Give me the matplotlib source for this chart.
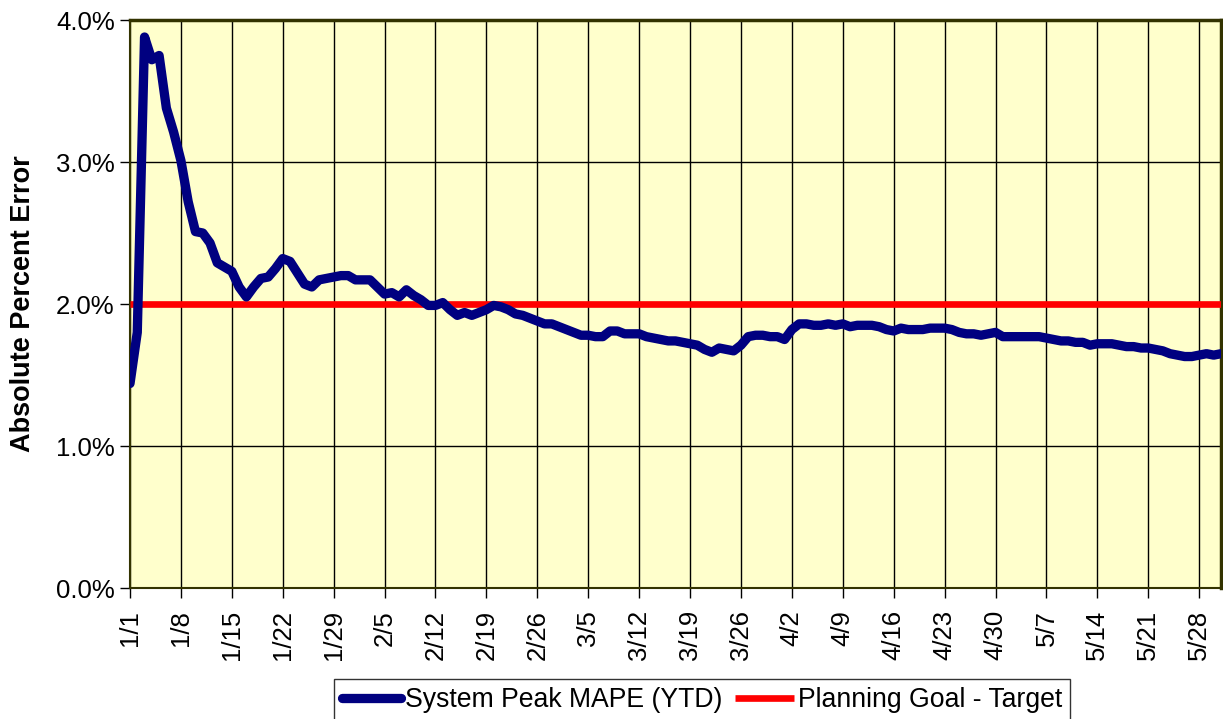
'''
System peak MAPE (YTD) vs planning goal
'''
import numpy as np
import matplotlib as mpl
import matplotlib.pyplot as plt

mpl.rcParams['font.family'] = ['Liberation Sans', 'DejaVu Sans']

# -- data: one value per day starting 1/1 --
mape_ytd = [
    1.44, 1.80, 3.88, 3.72, 3.75, 3.38, 3.21, 3.01, 2.72, 2.51,
    2.50, 2.43, 2.29, 2.26, 2.23, 2.12, 2.05, 2.12, 2.18, 2.19,
    2.25, 2.32, 2.30, 2.22, 2.14, 2.12, 2.17, 2.18, 2.19, 2.20,
    2.20, 2.17, 2.17, 2.17, 2.12, 2.07, 2.08, 2.05, 2.10, 2.06,
    2.03, 1.99, 1.99, 2.01, 1.96, 1.92, 1.94, 1.92, 1.94, 1.96,
    1.99, 1.98, 1.96, 1.93, 1.92, 1.90, 1.88, 1.86, 1.86, 1.84,
    1.82, 1.80, 1.78, 1.78, 1.77, 1.77, 1.81, 1.81, 1.79, 1.79,
    1.79, 1.77, 1.76, 1.75, 1.74, 1.74, 1.73, 1.72, 1.71, 1.68,
    1.66, 1.69, 1.68, 1.67, 1.71, 1.77, 1.78, 1.78, 1.77, 1.77,
    1.75, 1.82, 1.86, 1.86, 1.85, 1.85, 1.86, 1.85, 1.86, 1.84,
    1.85, 1.85, 1.85, 1.84, 1.82, 1.81, 1.83, 1.82, 1.82, 1.82,
    1.83, 1.83, 1.83, 1.82, 1.80, 1.79, 1.79, 1.78, 1.79, 1.80,
    1.77, 1.77, 1.77, 1.77, 1.77, 1.77, 1.76, 1.75, 1.74, 1.74,
    1.73, 1.73, 1.71, 1.72, 1.72, 1.72, 1.71, 1.70, 1.70, 1.69,
    1.69, 1.68, 1.67, 1.65, 1.64, 1.63, 1.63, 1.64, 1.65, 1.64,
    1.65]
goal = 2.0  # planning goal [%]

week_labels = ['1/1', '1/8', '1/15', '1/22', '1/29', '2/5', '2/12', '2/19',
               '2/26', '3/5', '3/12', '3/19', '3/26', '4/2', '4/9', '4/16',
               '4/23', '4/30', '5/7', '5/14', '5/21', '5/28']
y_ticks = [0.0, 1.0, 2.0, 3.0, 4.0]

day = np.arange(len(mape_ytd))

fig = plt.figure(figsize=(12.23, 7.19), dpi=100)
sub = fig.add_axes([130/1223., 1-588/719., 1091/1223., 568/719.])
sub.set_facecolor('#FFFFCC')

sub.plot(day, mape_ytd, c='#000080', lw=6.7, solid_joinstyle='round',
         solid_capstyle='round', label='System Peak MAPE (YTD)', zorder=4)
sub.plot([day[0], day[-1]], [goal, goal], c='#FF0000', lw=4.8,
         solid_capstyle='butt', label='Planning Goal - Target', zorder=3)

sub.set_xlim([day[0], day[-1]])
sub.set_ylim([0., 4.])
sub.set_xticks(np.arange(len(week_labels)) * 7)
sub.set_xticklabels(week_labels, rotation=90, fontsize=18.5)
sub.set_yticks(y_ticks)
sub.set_yticklabels(['%.1f%%' % t for t in y_ticks], fontsize=18.5)
sub.tick_params(direction='out', length=7, width=1, color='k')
sub.tick_params(axis='x', pad=9)
sub.tick_params(axis='y', pad=4)
sub.grid(True, color='k', lw=1)
sub.set_axisbelow(True)
for s in ['top', 'right']:
    sub.spines[s].set_color('#333300')
    sub.spines[s].set_linewidth(2.5)
for s in ['left', 'bottom']:
    sub.spines[s].set_color('#333300')
    sub.spines[s].set_linewidth(1.5)
sub.set_ylabel('Absolute Percent Error', fontsize=19.5, fontweight='bold')
sub.yaxis.set_label_coords((36 - 130)/1091., 0.5)

leg = fig.legend(loc='upper center', bbox_to_anchor=(702/1223., 1-679/719.),
                 ncol=2, fontsize=19.2, frameon=True, fancybox=False,
                 edgecolor='k', handlelength=2.2, handletextpad=0.15,
                 columnspacing=0.5, borderpad=0.3, borderaxespad=0.)
leg.get_frame().set_linewidth(1.0)

fig.savefig('out.png', dpi=100)
plt.close()
